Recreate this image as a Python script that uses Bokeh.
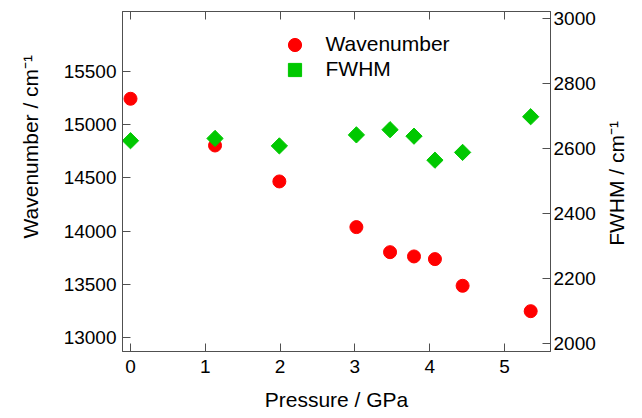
import math
from bokeh.plotting import figure
from bokeh.models import (Range1d, LinearAxis, FixedTicker, Legend, LegendItem,
                          Title)
from bokeh.embed import file_html
from bokeh.resources import INLINE

# ---- data ----
pressure = [0.0, 1.13, 1.99, 3.02, 3.47, 3.79, 4.07, 4.44, 5.35]
wavenumber = [15242, 14804, 14467, 14039, 13804, 13764, 13739, 13489, 13251]
fwhm = [2624, 2631, 2608, 2642, 2658, 2638, 2564, 2588, 2698]

x_ticks = [0, 1, 2, 3, 4, 5]
left_ticks = [13000, 13500, 14000, 14500, 15000, 15500]
right_ticks = [2000, 2200, 2400, 2600, 2800, 3000]

x_title = "Pressure / GPa"
left_title = "Wavenumber / cm\u207b\u00b9"
right_title = "FWHM / cm\u207b\u00b9"
RIGHT_TITLE_START = 2300  # FWHM level where the right title begins

FONT = "Liberation Sans"
AX = "#505050"

p = figure(width=642, height=418, output_backend="svg", toolbar_location=None,
           x_range=Range1d(-0.107, 5.615), y_range=Range1d(12873, 16060),
           min_border_left=122, min_border_right=92, min_border_top=11,
           min_border_bottom=67)
p.extra_y_ranges = {"fwhm": Range1d(1974, 3022.5)}
p.grid.visible = False
p.outline_line_color = AX
p.background_fill_color = "white"
p.border_fill_color = "white"


def style(ax):
    ax.axis_line_color = AX
    ax.major_tick_line_color = AX
    ax.major_tick_in = 8
    ax.major_tick_out = 0
    ax.minor_tick_line_color = None
    ax.major_label_text_font = FONT
    ax.major_label_text_font_size = "19px"
    ax.major_label_text_color = "black"
    ax.axis_label_text_font = FONT
    ax.axis_label_text_font_size = "21px"
    ax.axis_label_text_font_style = "normal"
    ax.axis_label_text_color = "black"


xa = p.xaxis[0]
xa.ticker = FixedTicker(ticks=x_ticks)
style(xa)
xa.major_label_standoff = 8
xa.axis_label = x_title
xa.axis_label_standoff = 12

ya = p.yaxis[0]
ya.ticker = FixedTicker(ticks=left_ticks)
style(ya)
ya.major_label_standoff = 6

# left axis title, placed a little above the frame centre as in the reference
ytitle = Title(text=left_title, align="left", offset=113,
               vertical_align="middle", standoff=35,
               text_font=FONT, text_font_size="21px",
               text_font_style="normal", text_color="black")
p.add_layout(ytitle, "left")

ra = LinearAxis(y_range_name="fwhm", ticker=FixedTicker(ticks=right_ticks))
style(ra)
ra.major_label_standoff = 3
p.add_layout(ra, "right")

# right title: carried by a bare axis so that it reads bottom-to-top
rt = LinearAxis(y_range_name="fwhm",
                ticker=FixedTicker(ticks=[RIGHT_TITLE_START]),
                major_label_overrides={RIGHT_TITLE_START: right_title})
style(rt)
rt.axis_line_color = None
rt.major_tick_line_color = None
rt.major_label_text_font_size = "21px"
rt.major_label_orientation = math.pi / 2
rt.major_label_standoff = 18
p.add_layout(rt, "right")

ta = LinearAxis(ticker=FixedTicker(ticks=x_ticks))
style(ta)
ta.major_label_text_font_size = "1px"
ta.major_label_text_color = None
ta.major_label_standoff = 0
p.add_layout(ta, "above")

r1 = p.scatter(pressure, wavenumber, marker="circle", size=13, color="#FF0000")
r2 = p.scatter(pressure, fwhm, marker="square", angle=math.pi / 4, size=11.5,
               color="#00C800", y_range_name="fwhm")

leg_kw = dict(padding=0, margin=0, spacing=0, glyph_width=33, glyph_height=33,
              label_height=25, label_standoff=15, border_line_color=None,
              background_fill_alpha=0, label_text_font=FONT,
              label_text_font_size="21px", label_text_color="black")
legend1 = Legend(items=[LegendItem(label="Wavenumber", renderers=[r1])],
                 location=(155.5, 290.5), **leg_kw)
legend2 = Legend(items=[LegendItem(label="FWHM", renderers=[r2])],
                 location=(155.5, 265.5), **leg_kw)
p.add_layout(legend1)
p.add_layout(legend2)

open("out.html", "w").write(file_html(p, INLINE))
